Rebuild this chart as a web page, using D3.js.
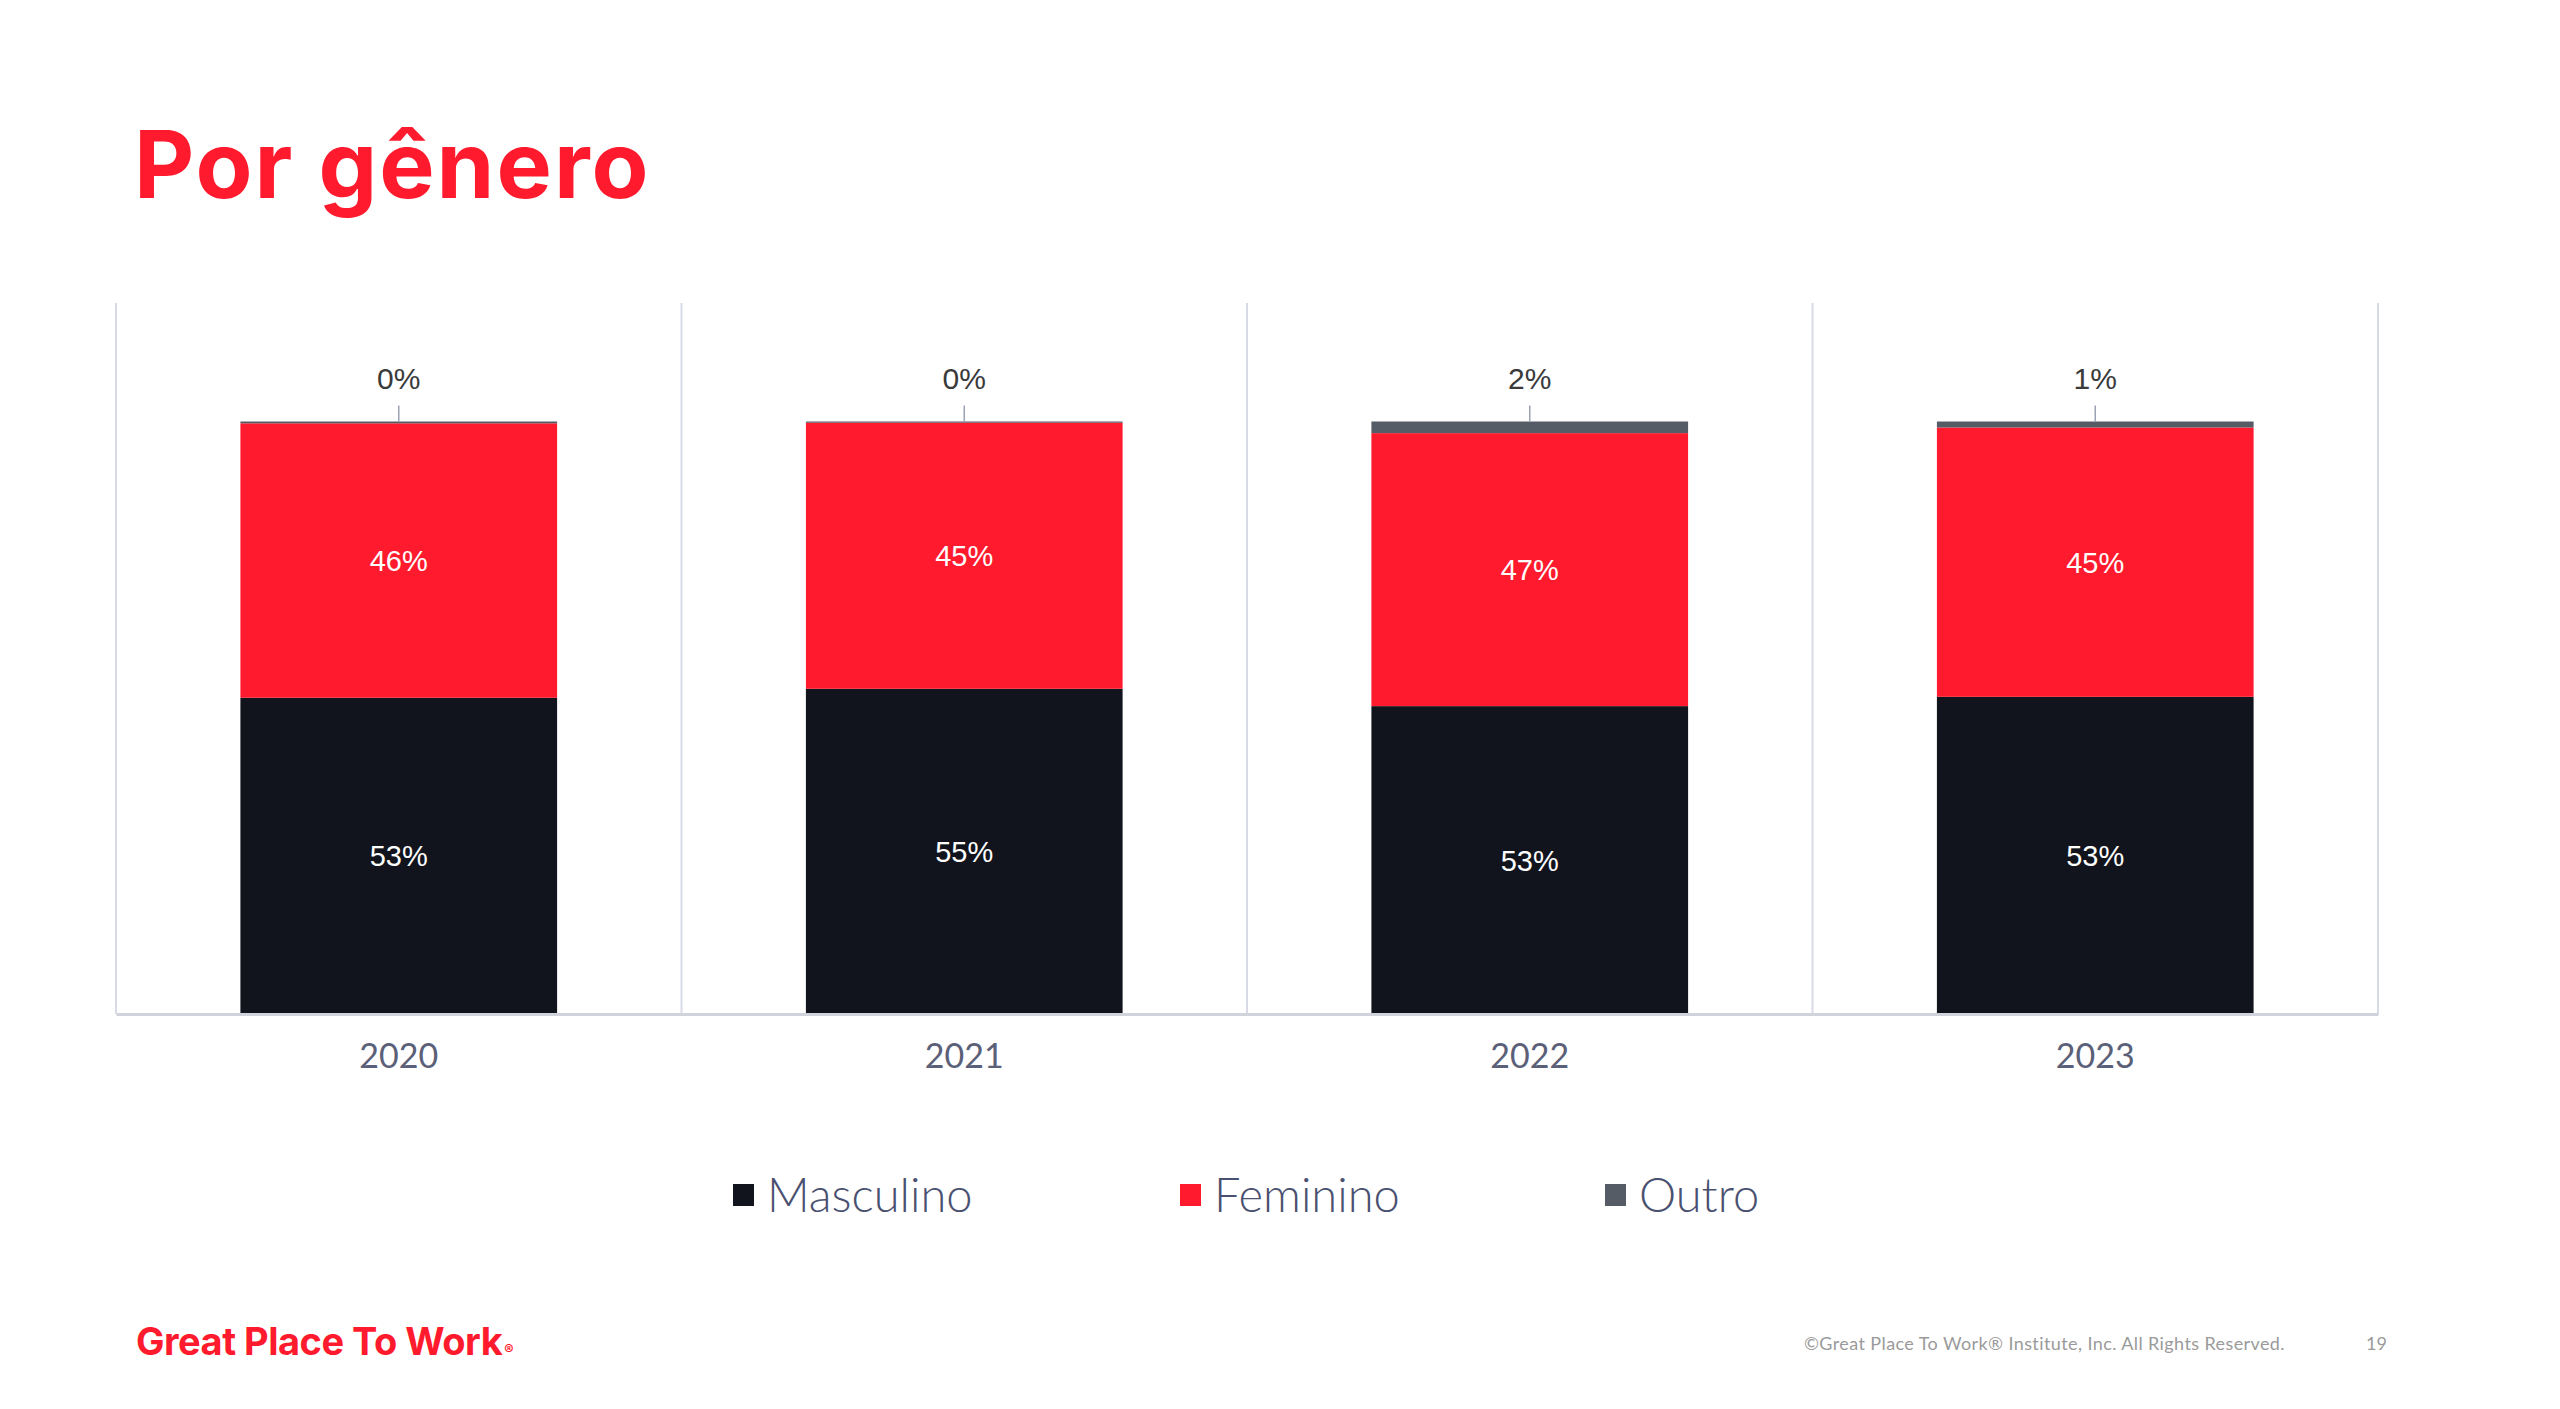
<!DOCTYPE html>
<html>
<head>
<meta charset="utf-8">
<script src="https://cdn.jsdelivr.net/npm/d3@7"></script>
<style>
  html, body { margin: 0; padding: 0; background: #ffffff; }
  svg { display: block; }
</style>
</head>
<body>
<svg id="chart" width="2560" height="1409"></svg>
<script>
// ---- data ----
const categories = ["2020", "2021", "2022", "2023"];
const seriesNames = ["Masculino", "Feminino", "Outro"];
const masculino = [53, 55, 53, 53];
const feminino = [46, 45, 47, 45];
const outro = [0.3, 0.2, 2, 1];
const seriesColors = ["#12141d", "#ff1a2d", "#555c66"];
const yTicks = [0, 1.2];

// ---- setup ----
const svg = d3.select("#chart");
const W = 2560, H = 1409;
svg.append("rect").attr("width", W).attr("height", H).attr("fill", "#fff");

const rows = categories.map((c, i) => ({
  cat: c, Masculino: masculino[i], Feminino: feminino[i], Outro: outro[i]
}));
const stacked = d3.stack().keys(seriesNames).offset(d3.stackOffsetExpand)(rows);

const x = d3.scaleBand().domain(categories).range([116, 2378]).padding(0);
const y = d3.scaleLinear().domain(d3.extent(yTicks)).range([1014, 303]);
const barW = x.bandwidth() * 0.56;
const color = d3.scaleOrdinal().domain(seriesNames).range(seriesColors);
const fmt = v => d3.format(".0f")(v) + "%";

// title
svg.append("text")
  .attr("x", 134).attr("y", 198)
  .attr("font-family", "Inter, Lato, sans-serif")
  .attr("font-weight", 700)
  .attr("font-size", 93)
  .attr("letter-spacing", 2)
  .attr("fill", "#ff1a2d")
  .text("Por gênero");

// vertical category gridlines
const bounds = categories.map(c => x(c)).concat([x.range()[1]]);
svg.append("g").selectAll("line").data(bounds).join("line")
  .attr("x1", d => d).attr("x2", d => d)
  .attr("y1", y(yTicks[1])).attr("y2", y(0))
  .attr("stroke", "#d8dbe5").attr("stroke-width", 2);

// bars
const gBars = svg.append("g");
stacked.forEach(layer => {
  gBars.append("g").attr("fill", color(layer.key))
    .selectAll("rect").data(layer).join("rect")
    .attr("x", d => x(d.data.cat) + (x.bandwidth() - barW) / 2)
    .attr("width", barW)
    .attr("y", d => y(d[1]))
    .attr("height", d => Math.max(0, y(d[0]) - y(d[1])));
});

// bottom axis
const xAxis = d3.axisBottom(x).tickSize(0).tickPadding(30);
const gx = svg.append("g").attr("transform", `translate(0,${y(0)})`).call(xAxis);
gx.select(".domain").attr("stroke", "#d0d3dc").attr("stroke-width", 3);
gx.selectAll("text")
  .attr("font-family", "Lato, 'Liberation Sans', sans-serif")
  .attr("font-size", 34)
  .attr("fill", "#5b6079");

// inner labels (Masculino, Feminino)
const inner = stacked.filter(l => l.key !== "Outro");
inner.forEach(layer => {
  svg.append("g").selectAll("text").data(layer).join("text")
    .attr("x", d => x(d.data.cat) + x.bandwidth() / 2)
    .attr("y", d => (y(d[0]) + y(d[1])) / 2)
    .attr("dy", "0.36em")
    .attr("text-anchor", "middle")
    .attr("font-family", "'Liberation Sans', Arial, sans-serif")
    .attr("font-size", 29)
    .attr("fill", "#ffffff")
    .text((d, i) => fmt(layer.key === "Masculino" ? masculino[i] : feminino[i]));
});

// outer labels (Outro) with leader lines
const outerLayer = stacked.find(l => l.key === "Outro");
const gOut = svg.append("g");
gOut.selectAll("line").data(outerLayer).join("line")
  .attr("x1", d => x(d.data.cat) + x.bandwidth() / 2)
  .attr("x2", d => x(d.data.cat) + x.bandwidth() / 2)
  .attr("y1", d => y(d[1]) - 16)
  .attr("y2", d => y(d[1]))
  .attr("stroke", "#9aa2b4").attr("stroke-width", 1.5);
gOut.selectAll("text").data(outerLayer).join("text")
  .attr("x", d => x(d.data.cat) + x.bandwidth() / 2)
  .attr("y", d => y(d[1]) - 33)
  .attr("text-anchor", "middle")
  .attr("font-family", "'Liberation Sans', Arial, sans-serif")
  .attr("font-size", 30)
  .attr("fill", "#3a3a3a")
  .text((d, i) => fmt(outro[i]));

// legend
const legendX = [733, 1180, 1605];
const gLeg = svg.append("g");
seriesNames.forEach((name, i) => {
  const g = gLeg.append("g").attr("transform", `translate(${legendX[i]},0)`);
  g.append("rect").attr("x", 0).attr("y", 1184).attr("width", 21).attr("height", 22)
    .attr("fill", color(name));
  g.append("text").attr("x", 34).attr("y", 1212)
    .attr("font-family", "Lato, 'Liberation Sans', sans-serif")
    .attr("font-weight", 300)
    .attr("font-size", 47)
    .attr("fill", "#4a5070")
    .text(name);
});

// footer
const logo = svg.append("text")
  .attr("x", 136).attr("y", 1355)
  .attr("font-family", "Inter, Lato, sans-serif")
  .attr("font-weight", 700)
  .attr("font-size", 38)
  .attr("letter-spacing", -0.5)
  .attr("fill", "#ff1a2d");
logo.append("tspan").text("Great Place To Work");
logo.append("tspan").attr("font-size", 14).attr("dx", 2).text("®");

svg.append("text")
  .attr("x", 1804).attr("y", 1350)
  .attr("font-family", "Lato, 'Liberation Sans', sans-serif")
  .attr("font-size", 18)
  .attr("letter-spacing", 0.4)
  .attr("fill", "#9a9a9a")
  .text("©Great Place To Work® Institute, Inc. All Rights Reserved.");
svg.append("text")
  .attr("x", 2366).attr("y", 1350)
  .attr("font-family", "Lato, 'Liberation Sans', sans-serif")
  .attr("font-size", 18)
  .attr("fill", "#9a9a9a")
  .text("19");
</script>
</body>
</html>
